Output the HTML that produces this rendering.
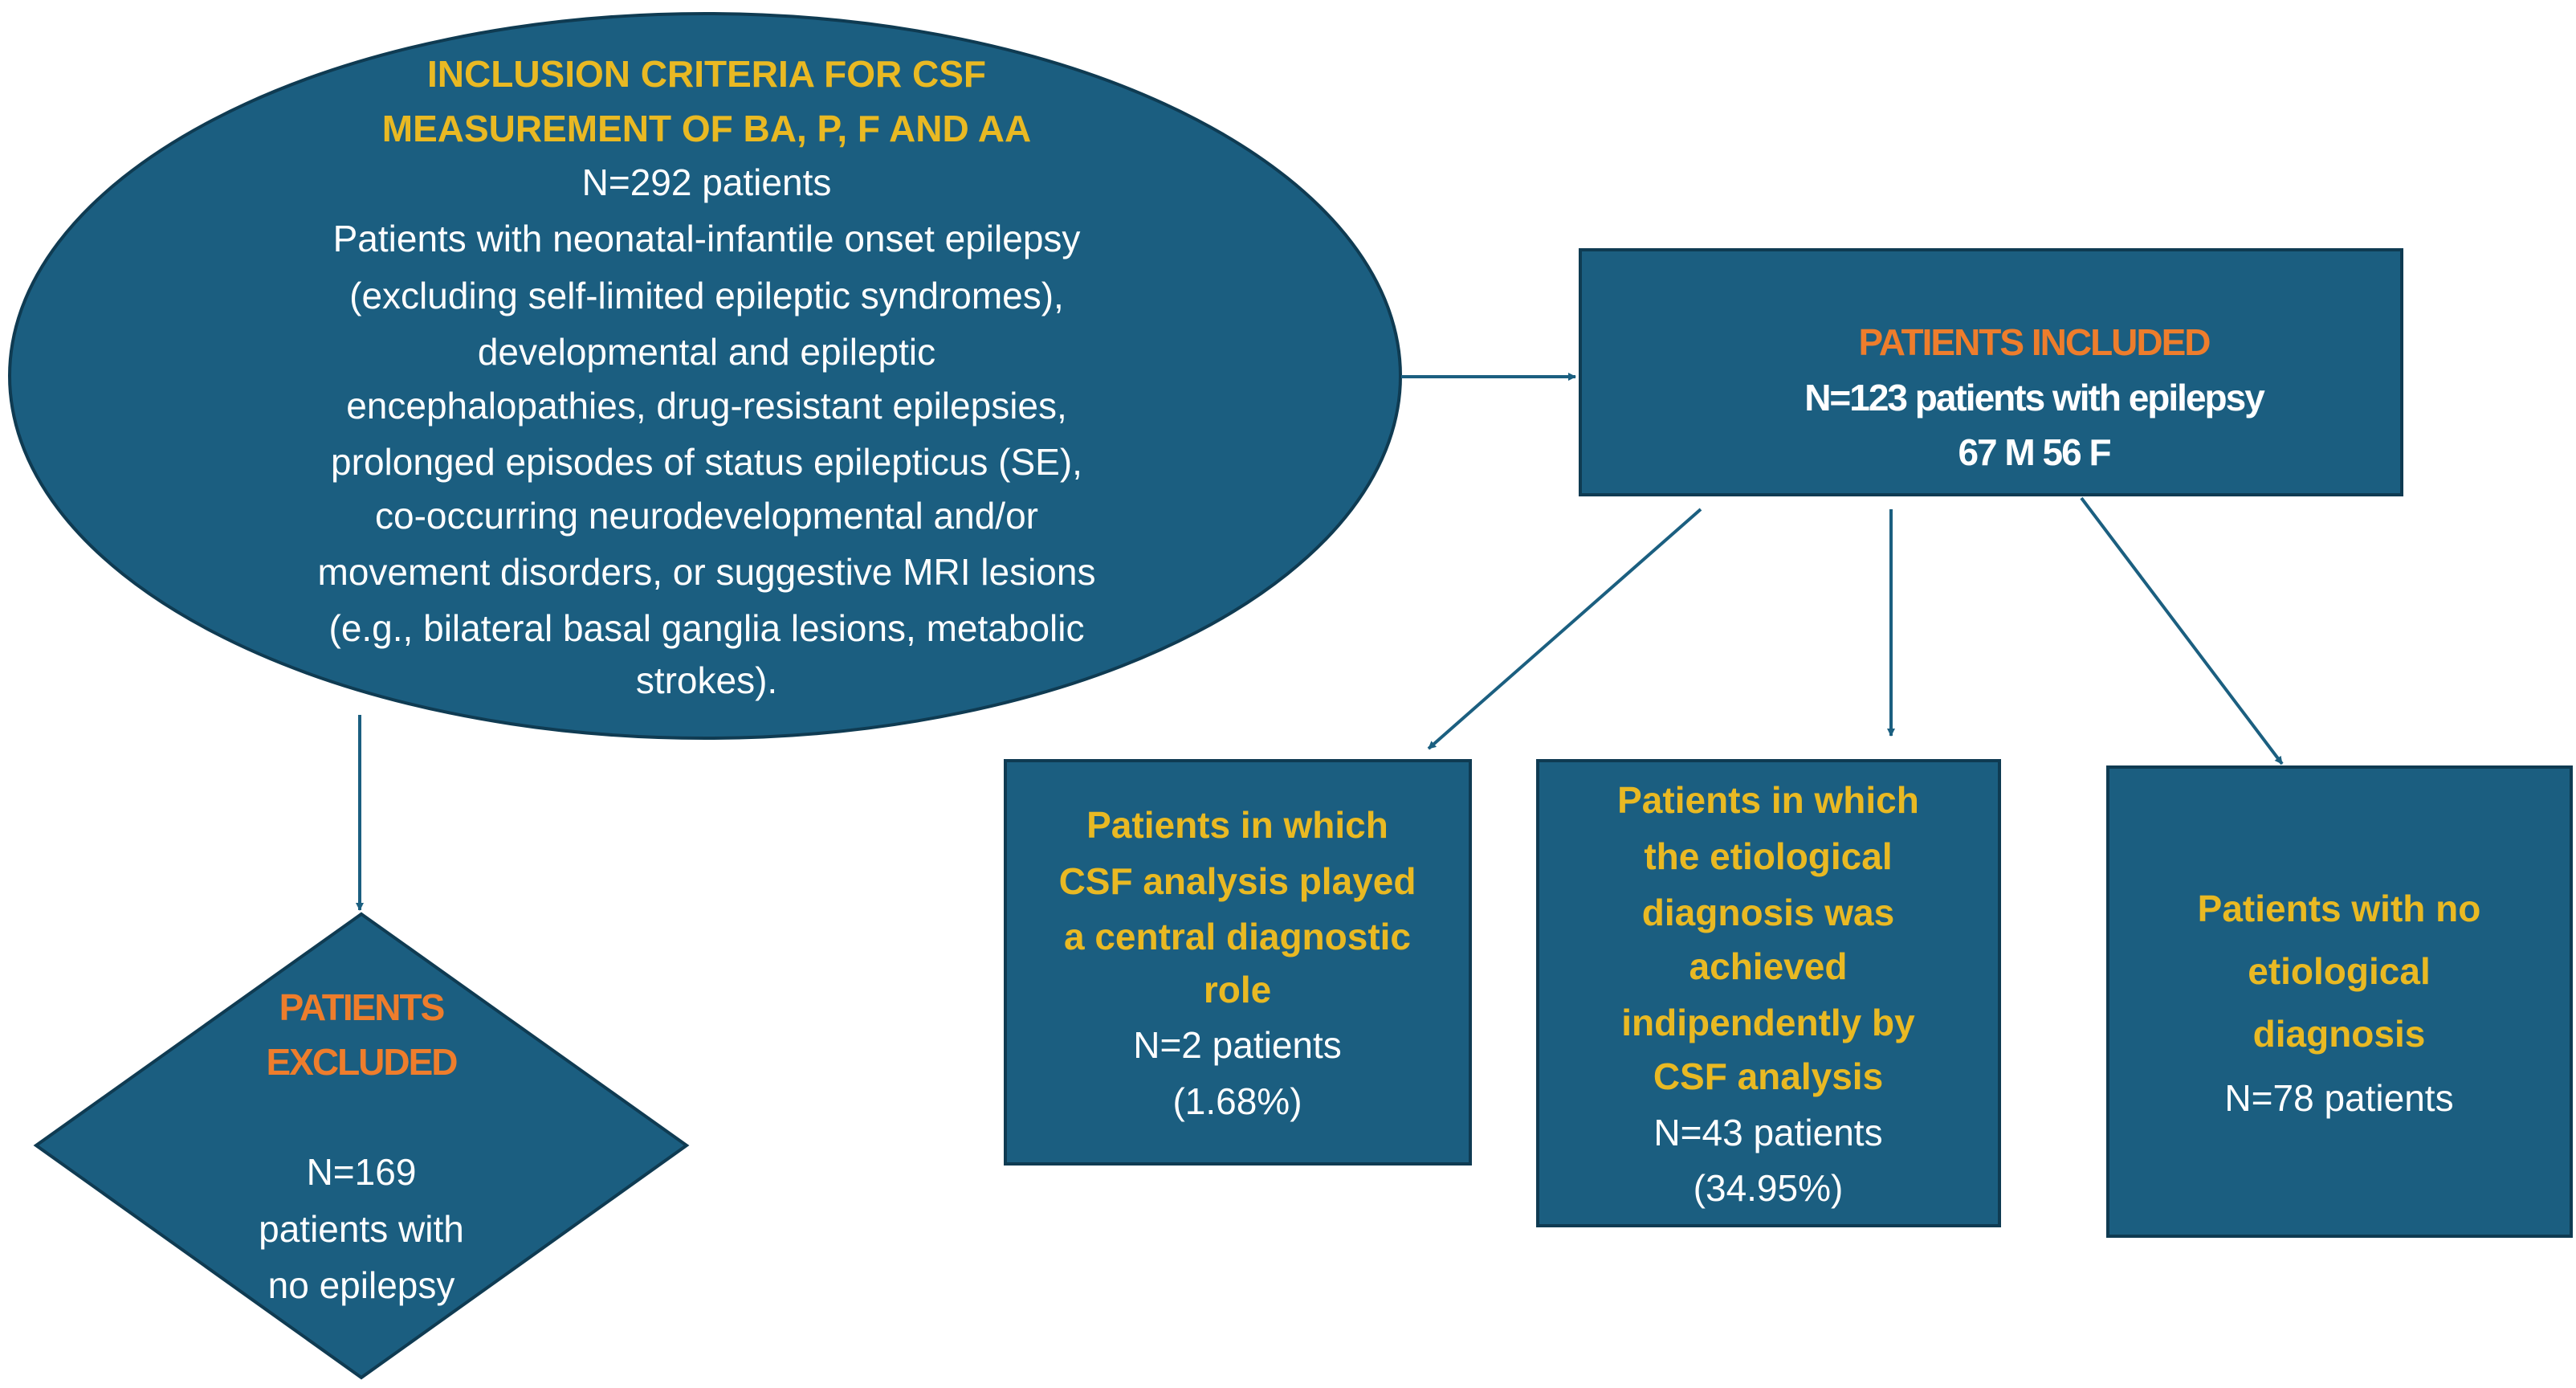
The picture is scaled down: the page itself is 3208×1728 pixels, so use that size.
<!DOCTYPE html>
<html><head><meta charset="utf-8"><style>
html,body{margin:0;padding:0;background:#fff;}
svg{display:block;}
text{font-family:"Liberation Sans",sans-serif;text-anchor:middle;dominant-baseline:central;}
.w{fill:#fff;font-size:46px;}
.y{fill:#e9b923;font-size:46px;font-weight:bold;}
.o{fill:#ee7d2c;font-size:46px;font-weight:bold;letter-spacing:-2px;}
</style></head><body>
<svg width="3208" height="1728" viewBox="0 0 3208 1728" xmlns="http://www.w3.org/2000/svg">
<defs><marker id="a" markerWidth="10" markerHeight="10" refX="9" refY="5" orient="auto" markerUnits="userSpaceOnUse" viewBox="0 0 10 10"><path d="M0,0 L10,5 L0,10 z" fill="#1b5f80"/></marker></defs>
<g fill="#1b5e80" stroke="#0f3b52" stroke-width="4">
<ellipse cx="878" cy="468" rx="866" ry="451"/>
<rect x="1968" y="311" width="1023" height="305"/>
<rect x="1252" y="947" width="579" height="502"/>
<rect x="1915" y="947" width="575" height="579"/>
<rect x="2625" y="955" width="577" height="584"/>
<polygon points="450,1138 855,1426 450,1715 45,1426"/>
</g>
<g stroke="#1b5f80" stroke-width="4" fill="none">
<line x1="1745" y1="469" x2="1962" y2="469" marker-end="url(#a)"/>
<line x1="448" y1="890" x2="448" y2="1133" marker-end="url(#a)"/>
<line x1="2118" y1="634" x2="1779" y2="932" marker-end="url(#a)"/>
<line x1="2355" y1="634" x2="2355" y2="916" marker-end="url(#a)"/>
<line x1="2592" y1="620" x2="2842" y2="951" marker-end="url(#a)"/>
</g>
<text class="y" x="880" y="92">INCLUSION CRITERIA FOR CSF</text>
<text class="y" x="880" y="160">MEASUREMENT OF BA, P, F AND AA</text>
<text class="w" x="880" y="227">N=292 patients</text>
<text class="w" x="880" y="297">Patients with neonatal-infantile onset epilepsy</text>
<text class="w" x="880" y="368">(excluding self-limited epileptic syndromes),</text>
<text class="w" x="880" y="438">developmental and epileptic</text>
<text class="w" x="880" y="505">encephalopathies, drug-resistant epilepsies,</text>
<text class="w" x="880" y="575">prolonged episodes of status epilepticus (SE),</text>
<text class="w" x="880" y="642">co-occurring neurodevelopmental  and/or</text>
<text class="w" x="880" y="712">movement disorders, or suggestive MRI lesions</text>
<text class="w" x="880" y="782">(e.g., bilateral basal ganglia lesions, metabolic</text>
<text class="w" x="880" y="847">strokes).</text>

<text class="o" x="2533" y="426">PATIENTS INCLUDED</text>
<text class="w" x="2533" y="495" font-weight="bold" letter-spacing="-2">N=123 patients with epilepsy</text>
<text class="w" x="2533" y="563" font-weight="bold" letter-spacing="-2">67 M   56 F</text>

<text class="y" x="1541" y="1027">Patients in which</text>
<text class="y" x="1541" y="1097">CSF analysis played</text>
<text class="y" x="1541" y="1166">a central diagnostic</text>
<text class="y" x="1541" y="1232">role</text>
<text class="w" x="1541" y="1301">N=2 patients</text>
<text class="w" x="1541" y="1371">(1.68%)</text>

<text class="y" x="2202" y="996">Patients in which</text>
<text class="y" x="2202" y="1066">the etiological</text>
<text class="y" x="2202" y="1136">diagnosis was</text>
<text class="y" x="2202" y="1203">achieved</text>
<text class="y" x="2202" y="1273">indipendently by</text>
<text class="y" x="2202" y="1340">CSF analysis</text>
<text class="w" x="2202" y="1410">N=43 patients</text>
<text class="w" x="2202" y="1479">(34.95%)</text>

<text class="y" x="2913" y="1131" font-size="54">Patients with no</text>
<text class="y" x="2913" y="1209" font-size="54">etiological</text>
<text class="y" x="2913" y="1287" font-size="54">diagnosis</text>
<text class="w" x="2913" y="1367" font-size="54">N=78 patients</text>

<text class="o" x="450" y="1254">PATIENTS</text>
<text class="o" x="450" y="1322">EXCLUDED</text>
<text class="w" x="450" y="1459">N=169</text>
<text class="w" x="450" y="1530">patients with</text>
<text class="w" x="450" y="1600">no epilepsy</text>
</svg>
</body></html>
